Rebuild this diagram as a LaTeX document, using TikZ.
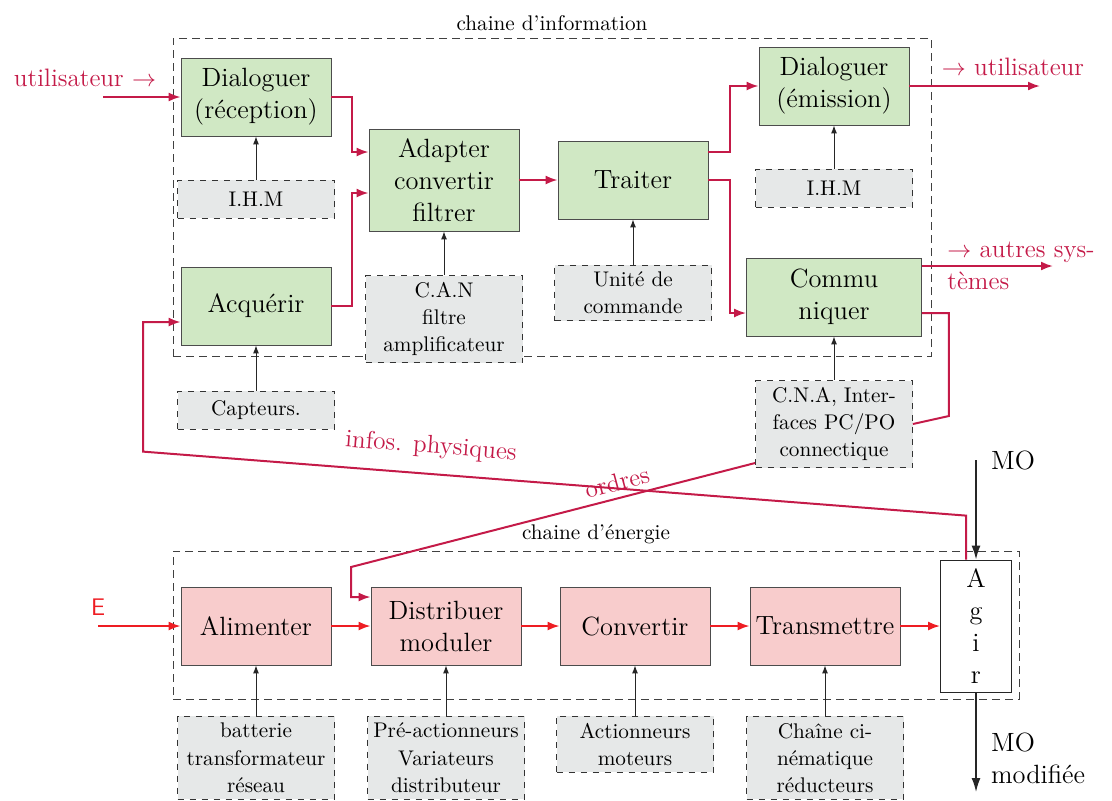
\documentclass[tikz,border=0pt]{standalone}
\usepackage{tikz}
\usetikzlibrary{arrows.meta}
\definecolor{infoGreen}{HTML}{D0E8C4}
\definecolor{enerPink}{HTML}{F8CCCC}
\definecolor{supGray}{HTML}{E6E8E8}
\definecolor{infoRed}{HTML}{C41A48}
\definecolor{enerRed}{HTML}{EE1D23}
\newcommand{\grand}{\fontsize{13.2}{16}\selectfont}
\newcommand{\moyen}{\fontsize{10.6}{13.6}\selectfont}

\begin{document}
\begin{tikzpicture}[x=0.5pt, y=-0.5pt,
  fonction/.style={draw=black!70, fill=infoGreen, minimum width=75pt,
    minimum height=39pt, align=center, font=\grand, inner xsep=1pt},
  energie/.style={fonction, fill=enerPink},
  support/.style={draw=black!80, dashed, fill=supGray, minimum width=78.5pt,
    minimum height=19pt, align=center, font=\moyen, inner xsep=1pt},
  cadre/.style={draw=black!75, dash pattern=on 4pt off 2.5pt},
  flux/.style={draw=infoRed, line width=1pt, -{Latex[length=6pt,width=4.5pt]}},
  fluxE/.style={draw=enerRed, line width=1pt, -{Latex[length=6pt,width=4.5pt]}},
  appui/.style={draw=black!85, line width=0.5pt, -{Latex[length=4pt,width=3pt]}},
  matiere/.style={draw=black!85, line width=0.8pt, -{Latex[length=7pt,width=4.5pt]}},
  rouge/.style={text=infoRed, font=\fontsize{12.6}{16}\selectfont},
]
  \useasboundingbox (0,0) rectangle (1112,800);

  \node[cadre, minimum width=379pt, minimum height=159pt,
    label={[font=\moyen]above:chaine d'information}] (chInfo) at (552,197) {};
  \node[cadre, minimum width=423pt, minimum height=74pt,
    label={[font=\moyen]above:chaine d'énergie}] (chEner) at (596,625) {};

  \node[fonction] (dialR) at (256,97) {Dialoguer\\(réception)};
  \node[fonction] (acq) at (256,306) {Acquérir};
  \node[fonction, minimum height=51pt] (adapt) at (444,180) {Adapter\\convertir\\filtrer};
  \node[fonction] (trait) at (633,180) {Traiter};
  \node[fonction] (dialE) at (834,86) {Dialoguer\\(émission)};
  \node[fonction, minimum width=87.5pt] (comm) at (834,297) {Commu\\niquer};

  \node[support] (ihmR) at (256,199) {I.H.M};
  \node[support] (capt) at (256,410) {Capteurs.};
  \node[support] (can) at (444,319) {C.A.N\\filtre\\amplificateur};
  \node[support] (unite) at (633,293) {Unité de\\commande};
  \node[support] (ihmE) at (834,188) {I.H.M};
  \node[support] (cna) at (834,424) {C.N.A, Inter-\\faces PC/PO\\connectique};

  \node[energie] (alim) at (256,626) {Alimenter};
  \node[energie] (distr) at (446,626) {Distribuer\\moduler};
  \node[energie] (conv) at (635,626) {Convertir};
  \node[energie, inner xsep=0pt] (trans) at (825,626) {Transmettre};
  \node[draw=black!85, fill=white, minimum width=35.5pt, minimum height=66pt,
    align=center, font=\grand] (agir) at (976,626) {A\\g\\i\\r};

  \node[support, anchor=north] (batt) at (256,716) {batterie\\transformateur\\réseau};
  \node[support, anchor=north] (preact) at (446,716) {Pré-actionneurs\\Variateurs\\distributeur};
  \node[support, anchor=north] (actio) at (635,716) {Actionneurs\\moteurs};
  \node[support, anchor=north] (cinem) at (825,716) {Chaîne ci-\\nématique\\réducteurs};

  \draw[appui] (ihmR.north) -- (dialR.south);
  \draw[appui] (capt.north) -- (acq.south);
  \draw[appui] (can.north) -- (adapt.south);
  \draw[appui] (unite.north) -- (trait.south);
  \draw[appui] (ihmE.north) -- (dialE.south);
  \draw[appui] (cna.north) -- (comm.south);
  \draw[appui] (batt.north) -- (alim.south);
  \draw[appui] (preact.north) -- (distr.south);
  \draw[appui] (actio.north) -- (conv.south);
  \draw[appui] (cinem.north) -- (trans.south);

  \coordinate (entreeU) at (103,97);
  \node[rouge] (lblEntree) at (85,78) {utilisateur $\rightarrow$};
  \draw[flux] (entreeU) -- (dialR.west);
  \draw[flux] (dialR.east) -- ++(21,0) |- ([yshift=14pt]adapt.west);
  \draw[flux] (acq.east) -- ++(21,0) |- ([yshift=-6.5pt]adapt.west);
  \draw[flux] (adapt.east) -- (trait.west);
  \draw[flux] ([yshift=14pt]trait.east) -- ++(22,0) |- (dialE.west);
  \draw[flux] (trait.east) -- ++(22,0) |- ([yshift=-8pt]comm.west);

  \coordinate (sortieU) at (1040,86);
  \draw[flux] (dialE.east) -- (sortieU);
  \node[rouge] (lblSortie) at (1013,67) {$\rightarrow$ utilisateur};
  \coordinate (sortieS) at (1053,266);
  \draw[flux] ([yshift=15.5pt]comm.east) -- (sortieS);
  \node[rouge, align=left, anchor=west, inner xsep=0pt] (lblSys) at (947,266)
    {$\rightarrow$ autres sys-\\tèmes};

  \draw[draw=infoRed, line width=1pt] ([yshift=-8pt]comm.east) -- ++(27,0)
    -- ++(0,103) -- (cna.east);
  \draw[flux] ([yshift=-19.5pt]cna.west) -- ++(-404,104) |- ([yshift=14.5pt]distr.west);
  \node[rouge, rotate=15] (lblOrdres) at (617,482) {ordres};

  \draw[flux] ([xshift=-5pt]agir.north) -- ++(0,-44) -- ++(-823,-64)
    |- ([yshift=-8pt]acq.west);
  \node[rouge, rotate=-4.4] (lblInfos) at (431,447) {infos. physiques};

  \coordinate (entreeE) at (98,626);
  \node[text=enerRed, font=\large\sffamily] (lblE) at (98,607) {E};
  \draw[fluxE] (entreeE) -- (alim.west);
  \draw[fluxE] (alim.east) -- (distr.west);
  \draw[fluxE] (distr.east) -- (conv.west);
  \draw[fluxE] (conv.east) -- (trans.west);
  \draw[fluxE] (trans.east) -- (agir.west);

  \coordinate (moIn) at (976,460);
  \coordinate (moOut) at (976,792);
  \draw[matiere] (moIn) -- (agir.north);
  \draw[matiere] (agir.south) -- (moOut);
  \node[font=\grand, anchor=west] (lblMO) at (984,460) {MO};
  \node[font=\grand, anchor=west, align=left] (lblMOm) at (984,758) {MO\\modifiée};
\end{tikzpicture}
\end{document}
